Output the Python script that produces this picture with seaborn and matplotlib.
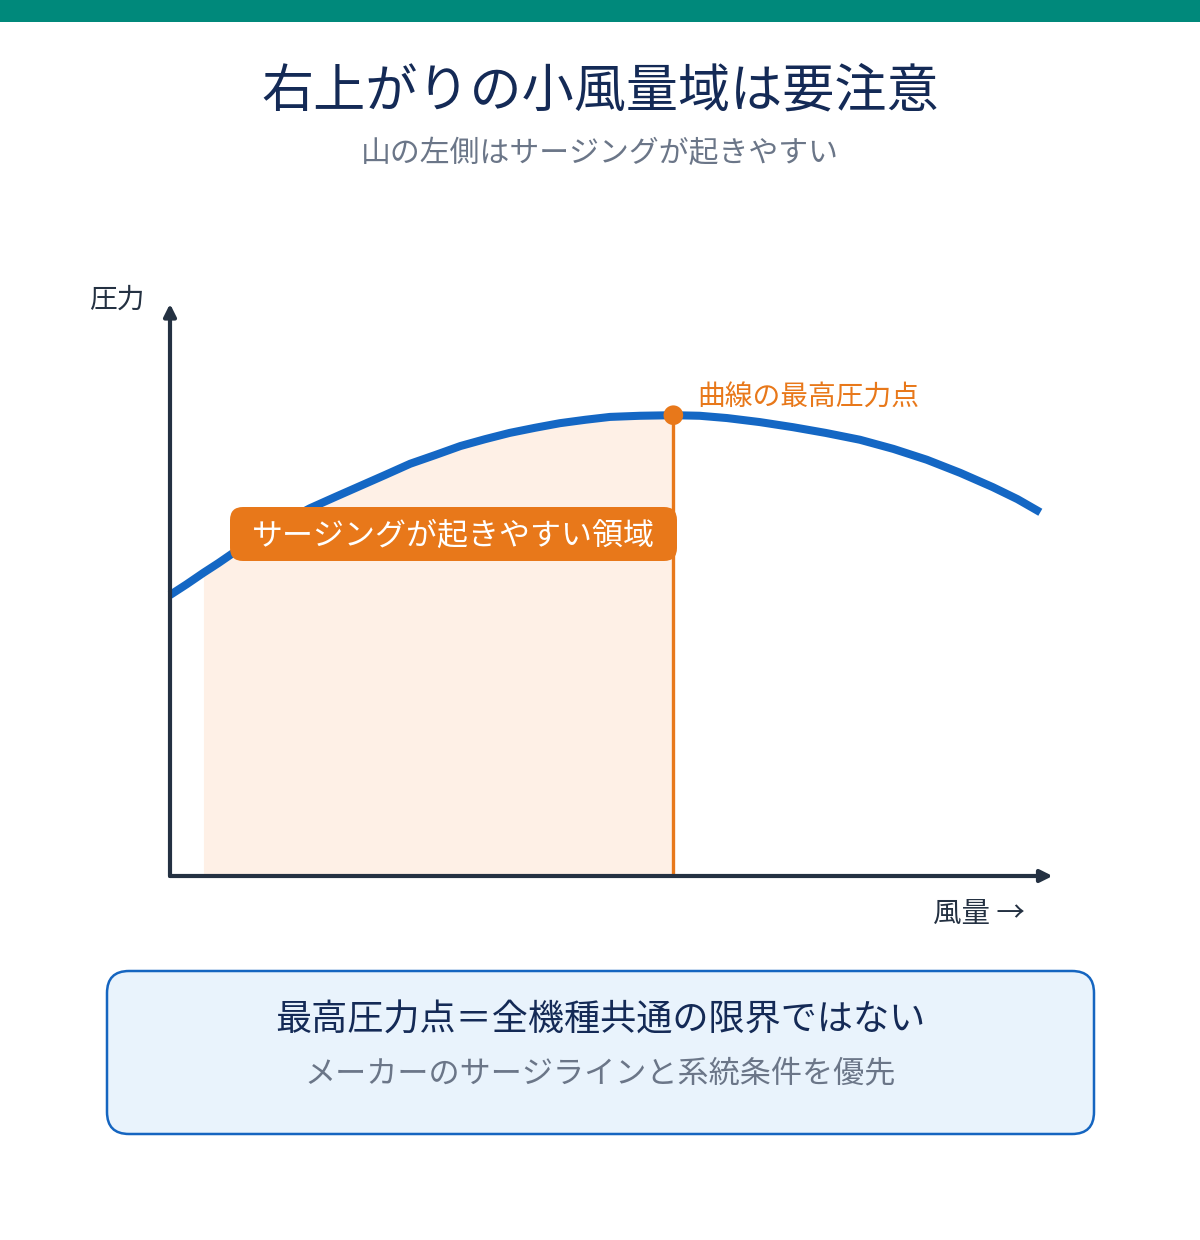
import matplotlib
matplotlib.use("Agg")
import matplotlib.pyplot as plt
from matplotlib.patches import FancyBboxPatch, Rectangle
import pandas as pd
import seaborn as sns

# fan curve (arbitrary units, 0-100)
flow = [0.0, 1.9, 3.8, 5.5, 7.2, 9.1, 11.4, 13.6, 15.9, 18.8, 21.6, 24.4,
        27.3, 30.1, 33.0, 35.8, 38.6, 41.5, 44.3, 47.2, 50.0, 53.4, 57.2,
        60.2, 63.3, 67.0, 70.8, 74.5, 78.4, 82.2, 86.0, 89.8, 93.5, 96.3, 98.9]
pressure = [49.2, 51.1, 53.1, 54.8, 56.6, 58.5, 60.6, 62.5, 64.4, 66.4, 68.3, 70.2,
            72.2, 73.7, 75.3, 76.5, 77.6, 78.5, 79.3, 79.9, 80.4, 80.6, 80.7,
            80.6, 80.2, 79.5, 78.6, 77.6, 76.4, 74.8, 72.9, 70.6, 68.1, 66.0, 63.7]
surge_start = 3.8
peak_flow = 57.2
peak_pressure = 80.7

title = "右上がりの小風量域は要注意"
subtitle = "山の左側はサージングが起きやすい"
y_label = "圧力"
x_label = "風量 →"
peak_label = "曲線の最高圧力点"
zone_label = "サージングが起きやすい領域"
note_main = "最高圧力点＝全機種共通の限界ではない"
note_sub = "メーカーのサージラインと系統条件を優先"

BLUE = "#1467C4"
ORANGE = "#E8781A"
DARK = "#243142"
NAVY = "#142A56"
GRAY = "#6B7688"

sns.set_theme(style="white")
plt.rcParams["font.family"] = ["Noto Sans CJK JP", "DejaVu Sans"]

df = pd.DataFrame({"flow": flow, "pressure": pressure})

W, H = 1200, 1240
fig = plt.figure(figsize=(W / 100, H / 100), dpi=100)

# overlay for the page decorations (pixel coords)
bg = fig.add_axes([0, 0, 1, 1])
bg.set_xlim(0, W)
bg.set_ylim(H, 0)
bg.axis("off")
bg.add_patch(Rectangle((0, 0), W, 22, color="#00897B", lw=0))
bg.text(600, 92, title, ha="center", va="center", fontsize=37.5, color=NAVY)
bg.text(600, 153, subtitle, ha="center", va="center", fontsize=21.5, color=GRAY)
bg.add_patch(FancyBboxPatch((107, 971), 987, 163,
                            boxstyle="round,pad=0,rounding_size=22",
                            facecolor="#E9F3FC", edgecolor="#1565C0", lw=1.8))
bg.text(600, 1021, note_main, ha="center", va="center", fontsize=26, color=NAVY)
bg.text(600, 1075, note_sub, ha="center", va="center", fontsize=22.4, color=GRAY)
bg.text(145, 300, y_label, ha="right", va="center", fontsize=20, color=DARK)
bg.text(1025, 914, x_label, ha="right", va="center", fontsize=20.5, color=DARK)

# chart axes: flow 0-100 -> x 170..1050 px, pressure 0-100 -> y 876..305 px
ax = fig.add_axes([170 / W, (H - 876) / H, 880 / W, 571 / H])
ax.set_xlim(0, 100)
ax.set_ylim(0, 100)
ax.axis("off")

zone = df[(df.flow >= surge_start) & (df.flow <= peak_flow)]
ax.fill_between(zone.flow, 0, zone.pressure, color="#FEF0E6", lw=0, zorder=1)
ax.plot([peak_flow, peak_flow], [0, peak_pressure], color=ORANGE, lw=2.4, zorder=2)

sns.lineplot(data=df, x="flow", y="pressure", color=BLUE, lw=5.8, ax=ax,
             zorder=3, legend=False)
ax.lines[-1].set_solid_capstyle("butt")
ax.lines[-1].set_solid_joinstyle("round")
ax.lines[-1].set_clip_on(False)

sns.scatterplot(x=[peak_flow], y=[peak_pressure], color=ORANGE, s=200,
                edgecolor="none", ax=ax, zorder=5)
ax.text(peak_flow + 2.7, peak_pressure + 3.0, peak_label, ha="left", va="center",
        fontsize=20, color=ORANGE)

# axes with arrowheads
arrow = dict(arrowstyle="-|>,head_length=0.6,head_width=0.3", color=DARK,
             lw=3, shrinkA=0, shrinkB=0)
ax.annotate("", xy=(100.3, 0), xytext=(0, 0), arrowprops=arrow,
            annotation_clip=False, zorder=6)
ax.annotate("", xy=(0, 100.2), xytext=(0, 0), arrowprops=arrow,
            annotation_clip=False, zorder=6)

# zone label box
bg.add_patch(FancyBboxPatch((230, 507), 447, 54,
                            boxstyle="round,pad=0,rounding_size=13",
                            facecolor=ORANGE, edgecolor="none", zorder=10))
bg.text(453.5, 536, zone_label, ha="center", va="center", fontsize=22.3,
        color="white", zorder=11)
bg.set_zorder(ax.get_zorder() + 1)
bg.patch.set_visible(False)

fig.savefig("out.png", dpi=100, facecolor="white")
